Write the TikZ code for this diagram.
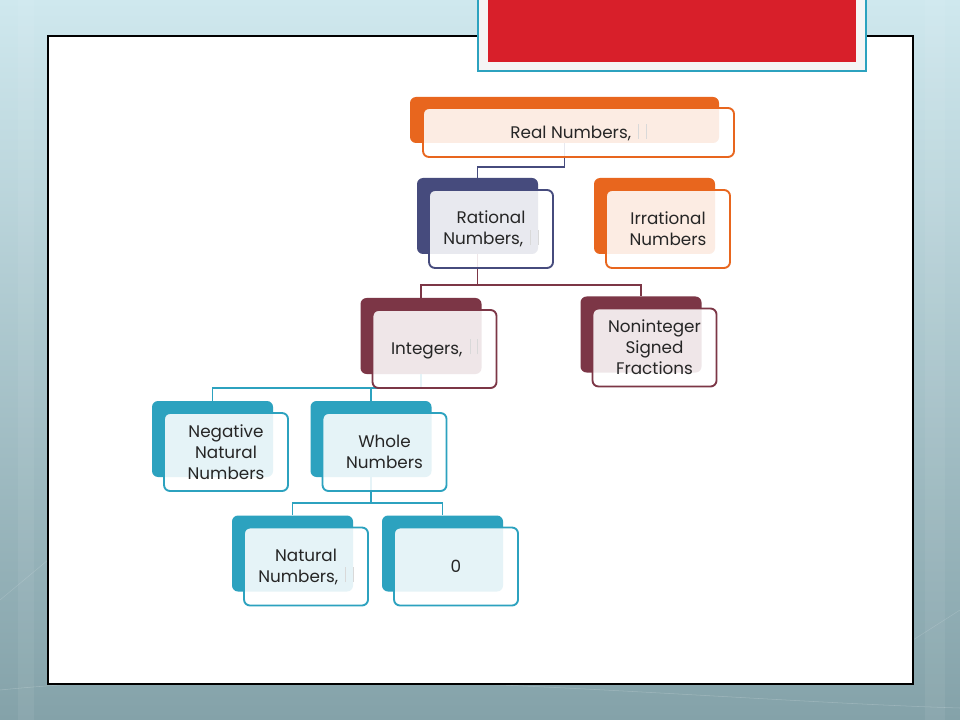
\documentclass[tikz,border=0pt]{standalone}
\usepackage{fontspec}
\setmainfont{Poppins}
\usetikzlibrary{positioning}

\definecolor{cOrange}{HTML}{E8661E}
\definecolor{cNavy}{HTML}{464B7D}
\definecolor{cMaroon}{HTML}{7C3646}
\definecolor{cTeal}{HTML}{2CA2BF}
\definecolor{cRed}{HTML}{D81F2A}
\definecolor{bgTop}{HTML}{CFE8EE}
\definecolor{bgBot}{HTML}{84A2A9}

% missing glyph box as the slide shows it
\newcommand{\tofu}{\hspace{2pt}\textcolor{black!15}{\rule{0.6pt}{1.6ex}\hspace{5pt}\rule{0.6pt}{1.6ex}}}

\tikzset{
    back/.style={rectangle, rounded corners=4.5pt, fill=#1, minimum width=90.75pt, minimum height=57pt, inner sep=0pt},
    front/.style={rectangle, rounded corners=4.5pt, draw=#1, line width=1.4pt, fill=white, fill opacity=0.88, text opacity=1,
        minimum width=93pt, minimum height=58.5pt, inner sep=0pt, align=center, text=black!85,
        font=\fontsize{12.6}{15.75}\selectfont},
    link/.style={draw=#1, line width=1.4pt},
}

\begin{document}
\begin{tikzpicture}[x=0.75pt, y=-0.75pt]
    % Nền slide
    \shade[top color=bgTop, bottom color=bgBot] (0,0) rectangle (960,720);
    \useasboundingbox (0,0) rectangle (960,720);
    \fill[white, opacity=0.06] (18,0) rectangle (34,720);
    \fill[white, opacity=0.06] (925,0) rectangle (945,720);
    \draw[white, opacity=0.2] (0,690) .. controls (300,660) and (700,700) .. (960,708);
    \draw[white, opacity=0.15] (0,600) -- (48,560);
    \draw[white, opacity=0.15] (913,640) -- (960,610);

    % Khung trắng và ô tiêu đề
    \draw[fill=white, line width=0.8pt] (48,36) rectangle (913,684);
    \draw[fill=black!4, draw=cTeal, line width=1.8pt] (478,-5) rectangle (866,71);
    \fill[cRed] (488,-5) rectangle (856,62);

    % Khối nền (màu đậm)
    \node[back=cOrange, minimum width=231.75pt, minimum height=34.5pt] (real-b) at (564.5,120) {};
    \node[back=cNavy] (rat-b) at (477.5,216) {};
    \node[back=cOrange] (irr-b) at (654.5,216) {};
    \node[back=cMaroon] (int-b) at (421,336) {};
    \node[back=cMaroon] (nonint-b) at (641,334.5) {};
    \node[back=cTeal] (neg-b) at (212.5,439) {};
    \node[back=cTeal] (whole-b) at (371,439) {};
    \node[back=cTeal] (nat-b) at (292.5,553.5) {};
    \node[back=cTeal] (zero-b) at (442.5,553.5) {};

    % Đường nối
    \coordinate (real-bus) at (0,167);
    \coordinate (rat-bus) at (0,285);
    \coordinate (int-bus) at (0,388);
    \coordinate (whole-bus) at (0,503);
    \draw[link=cNavy] (real-b.south) -- (real-b.south |- real-bus) -| (rat-b.north);
    \foreach \c in {int, nonint}
        \draw[link=cMaroon] (rat-b.south) -- (rat-b.south |- rat-bus) -| (\c-b.north);
    \foreach \c in {neg, whole}
        \draw[link=cTeal] (int-b.south) -- (int-b.south |- int-bus) -| (\c-b.north);
    \foreach \c in {nat, zero}
        \draw[link=cTeal] (whole-b.south) -- (whole-b.south |- whole-bus) -| (\c-b.north);

    % Khối chữ phía trước
    \node[front=cOrange, minimum width=233.25pt, minimum height=36.75pt] (real) at ([shift={(14,12.5)}]real-b.center) {Real Numbers, \tofu};
    \node[front=cNavy] (rat) at ([shift={(13.5,13)}]rat-b.center) {Rational\\Numbers, \tofu};
    \node[front=cOrange] (irr) at ([shift={(13.5,13)}]irr-b.center) {Irrational\\Numbers};
    \node[front=cMaroon] (int) at ([shift={(13.5,13)}]int-b.center) {Integers, \tofu};
    \node[front=cMaroon] (nonint) at ([shift={(13.5,13)}]nonint-b.center) {Noninteger\\Signed\\Fractions};
    \node[front=cTeal] (neg) at ([shift={(13.5,13)}]neg-b.center) {Negative\\Natural\\Numbers};
    \node[front=cTeal] (whole) at ([shift={(13.5,13)}]whole-b.center) {Whole\\Numbers};
    \node[front=cTeal] (nat) at ([shift={(13.5,13)}]nat-b.center) {Natural\\Numbers, \tofu};
    \node[front=cTeal] (zero) at ([shift={(13.5,13)}]zero-b.center) {0};
\end{tikzpicture}
\end{document}
